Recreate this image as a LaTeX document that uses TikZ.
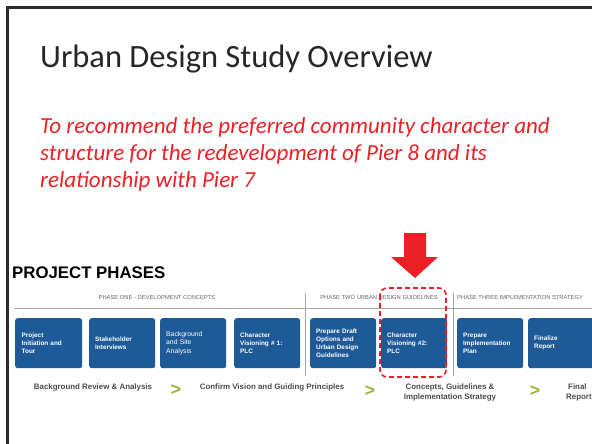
\documentclass[tikz,border=0pt]{standalone}
\usepackage{fontspec}
\setmainfont{Carlito}
\newfontfamily\arialf{Liberation Sans}
\definecolor{boxblue}{HTML}{1D5A97}
\definecolor{redtxt}{HTML}{EC2127}
\definecolor{chev}{HTML}{9CB43C}
\definecolor{lbl}{HTML}{4B4B4B}
\definecolor{framec}{HTML}{2C2C2C}
\definecolor{phasec}{HTML}{666666}
\tikzset{
  stepbox/.style={rectangle, rounded corners=2.5pt, fill=boxblue, text=white,
    anchor=north west, minimum height=50pt, text width=54pt, inner xsep=6pt,
    align=left, font=\arialf\bfseries\fontsize{6.4}{8.2}\selectfont},
  phasetxt/.style={text=phasec, font=\arialf\fontsize{5.8}{6}\selectfont, inner sep=0pt},
  steplbl/.style={text=lbl, font=\arialf\bfseries\fontsize{7.9}{10}\selectfont, align=center, inner sep=0pt},
  chevron/.style={text=chev, font=\arialf\bfseries\fontsize{18}{18}\selectfont, inner sep=0pt},
  divider/.style={draw=gray!70, line width=0.8pt}
}
\begin{document}
\begin{tikzpicture}[x=1pt,y=-1pt]
\clip (0,0) rectangle (592,444);
\fill[white] (0,0) rectangle (592,444);
% frame
\draw[framec, line width=2.6pt] (7.5,446) -- (7.5,7.5) -- (594,7.5);
% title
\node[anchor=base west, inner sep=0pt, text=black!85, font=\fontsize{32.5}{38}\selectfont] (title) at (40,67) {Urban Design Study Overview};
\node[anchor=north west, inner sep=0pt, text=redtxt, align=left,
  font=\itshape\fontsize{23}{27}\selectfont] (goal) at (40,117)
  {To recommend the preferred community character and\\structure for the redevelopment of Pier 8 and its\\relationship with Pier 7};
% red arrow
\fill[redtxt] (404,233) -- (426,233) -- (426,257) -- (438,257) -- (415,278) -- (391,257) -- (404,257) -- cycle;
% heading
\node[anchor=base west, inner sep=0pt, font=\arialf\bfseries\fontsize{16.8}{18}\selectfont] (pp) at (12,278) {PROJECT PHASES};
% phase headers
\node[phasetxt] (ph1) at (157,298) {PHASE ONE - DEVELOPMENT CONCEPTS};
\node[phasetxt] (ph2) at (379,298) {PHASE TWO URBAN DESIGN GUIDELINES};
\node[phasetxt, anchor=west] (ph3) at (457,298) {PHASE THREE IMPLEMENTATION STRATEGY};
\draw[divider] (14,308) -- (592,308);
\draw[divider] (305,293) -- (305,376);
\draw[divider] (453,293) -- (453,376);
% boxes
\node[stepbox, minimum width=67pt] (b1) at (15,318) {Project\\Initiation and\\Tour};
\node[stepbox] (b2) at (89,318) {Stakeholder\\Interviews};
\node[stepbox, font=\arialf\fontsize{6.8}{8.4}\selectfont] (b3) at (160,318) {Background\\and Site\\Analysis};
\node[stepbox] (b4) at (234,318) {Character\\Visioning \# 1:\\PLC};
\node[stepbox] (b5) at (310,318) {Prepare Draft\\Options and\\Urban Design\\Guidelines};
\node[stepbox] (b6) at (381,318) {Character\\Visioning \#2:\\PLC};
\node[stepbox] (b7) at (457,318) {Prepare\\Implementation\\Plan};
\node[stepbox] (b8) at (528,318) {Finalize\\Report};
% highlight
\draw[redtxt, line width=1.6pt, dash pattern=on 5pt off 3pt, rounded corners=7pt] (380,288) rectangle (446,377);
% step labels
\node[steplbl] (s1) at (93,387) {Background Review \& Analysis};
\node[chevron] (c1) at (176,390) {>};
\node[steplbl] (s2) at (272,387) {Confirm Vision and Guiding Principles};
\node[chevron] (c2) at (370,391) {>};
\node[steplbl] (s3) at (450,392) {Concepts, Guidelines \&\\Implementation Strategy};
\node[chevron] (c3) at (535,391) {>};
\node[steplbl, align=left, anchor=west] (s4) at (566,392) {\hspace*{2pt}Final\\Report};
\end{tikzpicture}
\end{document}
